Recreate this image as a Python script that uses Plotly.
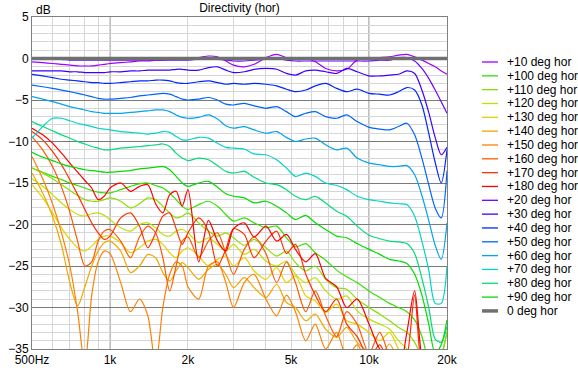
import plotly.graph_objects as go

freq = [500, 550, 600, 650, 700, 750, 800, 850, 900, 950, 1000,
        1100, 1200, 1300, 1400, 1500, 1600, 1700, 1800, 1900, 2000,
        2200, 2400, 2600, 2800, 3000, 3300, 3600, 4000, 4400, 4800, 5200,
        5700, 6200, 6800, 7500, 8200, 9000,
        10000, 11000, 12000, 13000, 14000, 15000, 16000, 17000, 18000, 19000, 20000]

deg0 = [0, 0, 0, 0, 0, 0, 0, 0, 0, 0, 0,
        0, 0, 0, 0, 0, 0, 0, 0, 0, 0,
        0, 0, 0, 0, 0, 0, 0, 0, 0, 0, 0,
        0, 0, 0, 0, 0, 0,
        0, 0, 0, 0, 0, 0, 0, 0, 0, 0, 0]
deg10 = [-0.4, -0.5, -0.6, -0.7, -0.8, -0.9, -0.9, -0.9, -0.8, -0.7, -0.6,
         -0.5, -0.4, -0.3, -0.3, -0.2, -0.2, -0.1, -0.1, 0.0, 0.0,
         0.1, 0.3, 0.2, -0.3, -0.8, -1.0, -0.7, 0.1, 0.5, 0.1, -0.1,
         0.0, -0.4, -1.2, -1.5, -1.3, -0.2,
         0.0, 0.1, 0.2, 0.4, 0.5, 0.2, -0.2, -0.6, -1.0, -1.5, -1.9]
deg20 = [-0.1, -0.1, -0.1, -0.1, -0.2, -0.2, -0.2, -0.2, -0.2, -0.2, -0.2,
         -0.2, -0.2, -0.2, -0.2, -0.2, -0.2, -0.2, -0.2, -0.2, -0.2,
         -0.1, 0.0, -0.1, -0.2, -0.3, -0.3, -0.2, -0.1, 0.0, -0.2, -0.3,
         -0.3, -0.3, -0.3, -0.3, -0.3, -0.3,
         -0.3, -0.2, -0.2, 0.1, 0.1, -0.3, -1.2, -2.4, -3.8, -5.2, -6.6]
deg30 = [-1.5, -1.5, -1.5, -1.5, -1.6, -1.6, -1.7, -1.7, -1.7, -1.7, -1.6,
         -1.6, -1.5, -1.5, -1.4, -1.4, -1.4, -1.4, -1.3, -1.3, -1.4,
         -1.4, -1.1, -1.0, -1.4, -1.7, -1.6, -1.3, -1.2, -1.3, -1.8, -2.0,
         -1.5, -1.4, -1.6, -1.8, -1.2, -1.6,
         -2.1, -2.1, -2.0, -1.9, -1.5, -1.8, -3.8, -6.5, -9.5, -11.6, -10.7]
deg40 = [-1.9, -2.1, -2.3, -2.5, -2.6, -2.7, -2.8, -2.9, -2.9, -3.0, -3.0,
         -2.9, -2.8, -2.7, -2.7, -2.6, -2.6, -2.7, -2.9, -3.0, -3.0,
         -2.8, -2.7, -2.9, -3.1, -3.0, -3.1, -3.0, -3.1, -3.3, -3.7, -4.0,
         -3.8, -3.3, -3.0, -3.6, -4.0, -3.7,
         -4.2, -4.3, -4.4, -4.0, -3.5, -3.8, -5.6, -9.0, -12.5, -15.0, -11.0]
deg50 = [-3.2, -3.4, -3.6, -3.8, -4.0, -4.2, -4.4, -4.6, -4.8, -4.9, -4.9,
         -4.8, -4.7, -4.5, -4.4, -4.3, -4.2, -4.3, -4.6, -4.9, -5.0,
         -4.9, -4.7, -5.0, -5.5, -5.6, -5.4, -5.7, -6.0, -5.8, -6.4, -7.0,
         -6.6, -6.4, -7.0, -7.2, -6.8, -7.6,
         -8.3, -8.5, -8.6, -8.2, -7.8, -9.2, -12.0, -15.2, -18.0, -19.2, -13.5]
deg60 = [-4.6, -4.9, -5.2, -5.5, -5.8, -6.0, -6.2, -6.4, -6.5, -6.6, -6.6,
         -6.6, -6.5, -6.4, -6.3, -6.2, -6.2, -6.4, -6.8, -7.1, -7.2,
         -7.1, -6.8, -7.3, -8.1, -8.4, -8.2, -8.6, -9.0, -8.8, -9.5, -10.0,
         -9.7, -9.6, -10.4, -11.0, -10.8, -12.0,
         -12.6, -12.8, -13.0, -13.0, -12.9, -14.0, -16.5, -19.5, -22.5, -24.2, -19.8]
deg70 = [-9.6, -8.2, -7.2, -7.2, -7.5, -7.8, -8.0, -8.2, -8.4, -8.5, -8.6,
         -8.8, -8.9, -9.0, -9.1, -9.0, -8.8, -8.9, -9.4, -9.8, -9.8,
         -9.5, -9.6, -10.2, -10.7, -10.8, -10.9, -11.5, -11.6, -12.2, -13.2, -14.2,
         -13.8, -14.2, -15.0, -15.3, -15.8, -16.6,
         -17.0, -17.2, -17.4, -17.5, -17.6, -19.0, -22.0, -25.5, -29.5, -29.5, -25.0]
deg80 = [-7.6, -8.2, -8.7, -9.2, -9.6, -10.0, -10.3, -10.6, -10.8, -11.0, -11.0,
         -10.8, -10.7, -10.6, -10.5, -10.4, -10.3, -10.6, -11.4, -12.0, -12.3,
         -12.0, -12.2, -12.9, -13.6, -13.8, -13.6, -14.3, -15.0, -15.2, -15.8, -16.6,
         -17.0, -16.6, -17.4, -18.4, -19.0, -20.2,
         -21.3, -21.7, -22.0, -22.1, -22.3, -23.5, -26.5, -30.0, -33.8, -34.2, -32.3]
deg90 = [-11.3, -11.9, -12.3, -12.7, -13.0, -13.2, -13.4, -13.5, -13.6, -13.7, -13.7,
         -13.6, -13.5, -13.3, -13.2, -13.1, -13.0, -13.4, -14.2, -15.0, -15.4,
         -15.0, -14.8, -15.5, -16.3, -16.6, -16.8, -17.4, -17.2, -17.8, -18.6, -19.4,
         -18.9, -19.8, -20.6, -21.4, -21.6, -22.3,
         -23.0, -23.6, -24.2, -24.4, -24.7, -26.0, -28.5, -32.0, -35.5, -34.5, -31.5]
deg100 = [-13.2, -13.7, -14.2, -14.6, -15.0, -15.3, -15.6, -15.9, -16.1, -16.2, -16.2,
          -15.8, -15.4, -15.1, -15.0, -15.3, -15.6, -16.2, -17.0, -17.8, -18.2,
          -17.6, -17.2, -17.8, -18.8, -19.6, -19.2, -19.8, -20.4, -20.2, -21.6, -22.7,
          -22.3, -23.4, -24.3, -25.5, -26.3, -27.0,
          -28.0, -28.8, -29.5, -30.0, -30.5, -31.5, -33.5, -36.5, -38.0, -36.0, -33.0]
deg110 = [-13.2, -13.8, -14.5, -15.2, -15.9, -16.5, -17.0, -17.2, -17.2, -17.0, -16.8,
          -17.2, -18.0, -17.5, -16.8, -17.0, -17.8, -18.6, -19.2, -19.0, -18.6,
          -19.8, -20.8, -21.4, -21.0, -21.6, -22.5, -21.8, -22.8, -23.8, -23.2, -24.6,
          -25.6, -25.0, -26.6, -27.6, -27.8, -29.0,
          -30.0, -30.8, -31.6, -32.4, -33.0, -34.2, -36.0, -38.0, -38.0, -36.0, -33.0]
deg120 = [-14.5, -15.4, -16.4, -17.4, -18.2, -18.8, -19.0, -18.7, -18.6, -18.9, -19.4,
          -20.4, -20.8, -20.0, -19.8, -20.4, -21.2, -21.4, -20.8, -20.6, -21.0,
          -22.2, -21.6, -22.4, -23.2, -22.4, -23.6, -23.0, -24.4, -25.0, -24.4, -26.0,
          -27.0, -26.4, -28.0, -29.0, -28.6, -30.4,
          -31.4, -32.0, -32.6, -34.0, -35.0, -36.5, -38.0, -38.0, -38.0, -38.0, -38.0]
deg130 = [-15.2, -16.8, -18.6, -20.4, -21.8, -22.8, -23.2, -22.6, -21.8, -21.4, -21.4,
          -22.2, -23.4, -22.8, -22.0, -21.8, -22.4, -23.4, -24.0, -23.2, -22.8,
          -23.8, -25.0, -24.2, -23.8, -25.0, -24.0, -25.6, -26.6, -25.2, -27.0, -26.2,
          -28.6, -29.2, -30.6, -29.6, -31.6, -32.0,
          -33.0, -34.0, -33.0, -35.0, -36.0, -38.0, -38.0, -38.0, -38.0, -38.0, -38.0]
deg140 = [-13.8, -16.2, -19.0, -22.5, -27.0, -29.8, -27.5, -25.0, -23.2, -22.2, -22.0,
          -23.2, -25.8, -25.0, -23.6, -24.0, -25.8, -26.8, -25.6, -24.6, -25.2,
          -26.6, -25.4, -24.8, -26.0, -27.6, -26.4, -27.6, -28.8, -27.2, -29.4, -30.0,
          -31.6, -30.8, -32.6, -33.6, -32.4, -34.2,
          -35.4, -36.0, -34.4, -36.5, -38.0, -38.0, -38.0, -38.0, -38.0, -38.0, -38.0]
deg150 = [-11.8, -14.5, -17.5, -21.0, -25.0, -30.5, -37.0, -28.5, -24.5, -23.2, -23.5,
          -27.0, -30.5, -29.0, -31.0, -37.0, -30.0, -26.0, -24.5, -25.0, -27.5,
          -29.0, -25.0, -24.5, -27.0, -30.0, -27.0, -26.0, -29.0, -31.0, -28.5, -30.5,
          -34.0, -32.0, -35.0, -33.0, -36.0, -34.5,
          -37.0, -36.0, -38.0, -38.0, -38.0, -38.0, -38.0, -38.0, -38.0, -38.0, -38.0]
deg160 = [-9.4, -11.0, -13.0, -15.5, -18.5, -22.0, -25.0, -24.5, -22.0, -20.8, -20.6,
          -22.0, -24.0, -21.5, -20.2, -21.0, -24.0, -28.0, -25.0, -22.0, -21.5,
          -24.0, -22.0, -21.0, -23.5, -26.0, -23.0, -21.5, -23.5, -27.0, -24.5, -27.0,
          -30.5, -28.0, -31.0, -33.5, -30.5, -32.0,
          -35.5, -33.0, -36.0, -38.0, -38.0, -38.0, -38.0, -38.0, -38.0, -38.0, -38.0]
deg170 = [-8.8, -9.8, -11.2, -12.8, -14.6, -16.4, -18.2, -19.8, -21.0, -21.8, -21.4,
          -19.2, -18.6, -20.2, -22.8, -21.0, -19.0, -18.6, -20.5, -22.4, -21.0,
          -19.2, -20.8, -25.0, -23.0, -20.5, -21.2, -24.0, -22.0, -20.8, -23.5, -22.4,
          -26.0, -28.5, -30.5, -29.0, -32.0, -33.5,
          -36.0, -34.5, -37.0, -38.0, -36.0, -28.5, -37.0, -38.0, -38.0, -38.0, -38.0]
deg180 = [-8.4, -9.2, -10.2, -11.4, -12.6, -13.7, -14.7, -15.6, -17.0, -16.6, -15.6,
          -15.0, -16.0, -15.4, -15.2, -17.5, -18.6, -16.4, -16.0, -17.8, -15.8,
          -24.5, -19.5, -22.0, -23.2, -20.5, -19.8, -21.5, -20.2, -22.0, -21.2, -23.0,
          -24.5, -23.5, -26.5, -27.5, -30.0, -29.0,
          -32.0, -35.0, -36.0, -38.0, -33.0, -28.0, -36.0, -38.0, -38.0, -38.0, -38.0]

names = ["+10 deg hor", "+100 deg hor", "+110 deg hor", "+120 deg hor", "+130 deg hor",
         "+140 deg hor", "+150 deg hor", "+160 deg hor", "+170 deg hor", "+180 deg hor",
         "+20 deg hor", "+30 deg hor", "+40 deg hor", "+50 deg hor", "+60 deg hor",
         "+70 deg hor", "+80 deg hor", "+90 deg hor", "0 deg hor"]
series = [deg10, deg100, deg110, deg120, deg130, deg140, deg150, deg160, deg170, deg180,
          deg20, deg30, deg40, deg50, deg60, deg70, deg80, deg90, deg0]
colors = ["#a000ff", "#34e000", "#88e000", "#c0e000", "#e6d000",
          "#f0a800", "#ff8000", "#ff5a00", "#ff3000", "#ff0000",
          "#7000ff", "#3c00ff", "#0028ff", "#0064ff", "#00a4f0",
          "#00d4c8", "#00dc78", "#00dc00", "#707070"]

FONT = "Liberation Sans, Arial, sans-serif"
W, H = 578, 368
L, R, T, B = 32, 131, 17, 19
PW, PH = W - L - R, H - T - B

fig = go.Figure()
for name, ys, col in zip(names, series, colors):
    width = 3.5 if name.startswith("0 ") else 1.2
    fig.add_trace(go.Scatter(x=freq, y=ys, mode="lines", name=name,
                             line=dict(color=col, width=width, shape="spline", smoothing=0.8),
                             showlegend=False))

shapes = []
for fx in [1000, 10000]:
    shapes.append(dict(type="line", xref="x", yref="paper", x0=fx, x1=fx, y0=0, y1=1,
                       layer="below", line=dict(color="#7a7a7a", width=1)))

annotations = []
# compact legend (entries follow the series list)
leg_top, leg_step = 62, 13.83
for i, (name, col) in enumerate(zip(names, colors)):
    yc = leg_top + i * leg_step
    py = (H - B - yc) / PH
    lw = 3.5 if name.startswith("0 ") else 1.3
    shapes.append(dict(type="line", xref="paper", yref="paper",
                       x0=(482 - L) / PW, x1=(498 - L) / PW, y0=py, y1=py,
                       line=dict(color=col, width=lw)))
    annotations.append(dict(xref="paper", yref="paper", x=(505 - L) / PW, y=py,
                            text=name, showarrow=False, xanchor="left", yanchor="middle",
                            font=dict(family=FONT, size=12, color="#000")))

annotations.append(dict(xref="paper", yref="paper", x=(34 - L) / PW, y=(H - B - 10) / PH,
                        text="dB", showarrow=False, xanchor="left", yanchor="middle",
                        font=dict(family=FONT, size=12, color="#000")))

fig.update_layout(
    width=W, height=H, autosize=False,
    margin=dict(l=L, r=R, t=T, b=B, autoexpand=False),
    paper_bgcolor="white", plot_bgcolor="white",
    font=dict(family=FONT, size=12, color="#000"),
    title=dict(text="Directivity (hor)", x=0.5, xref="paper", xanchor="center",
               y=1 - 8 / H, yref="container", yanchor="middle",
               font=dict(family=FONT, size=12, color="#000")),
    shapes=shapes, annotations=annotations,
    showlegend=False,
)
fig.update_xaxes(type="log", range=[2.69897, 4.30103], automargin=False,
                 tickmode="array", tickvals=[500, 1000, 2000, 5000, 10000, 20000],
                 ticktext=["500Hz", "1k", "2k", "5k", "10k", "20k"],
                 showgrid=True, gridcolor="#d6d6d6", gridwidth=1,
                 minor=dict(tickmode="array", tickvals=[600, 700, 800, 900, 3000, 4000, 6000, 7000, 8000, 9000],
                            showgrid=True, gridcolor="#d6d6d6", gridwidth=1),
                 showline=True, mirror=True, linecolor="#808080", linewidth=1,
                 ticks="", zeroline=False, tickfont=dict(family=FONT, size=12, color="#000"))
fig.update_yaxes(range=[-35, 5], tickmode="linear", tick0=0, dtick=5, automargin=False,
                 showgrid=True, gridcolor="#7a7a7a", gridwidth=1,
                 minor=dict(dtick=1, showgrid=True, gridcolor="#d6d6d6", gridwidth=1),
                 showline=True, mirror=True, linecolor="#808080", linewidth=1,
                 ticks="", zeroline=False, tickfont=dict(family=FONT, size=12, color="#000"))

fig.write_html("out.html", config={"displayModeBar": False, "staticPlot": True},
               post_script="document.body.style.margin='0';")
